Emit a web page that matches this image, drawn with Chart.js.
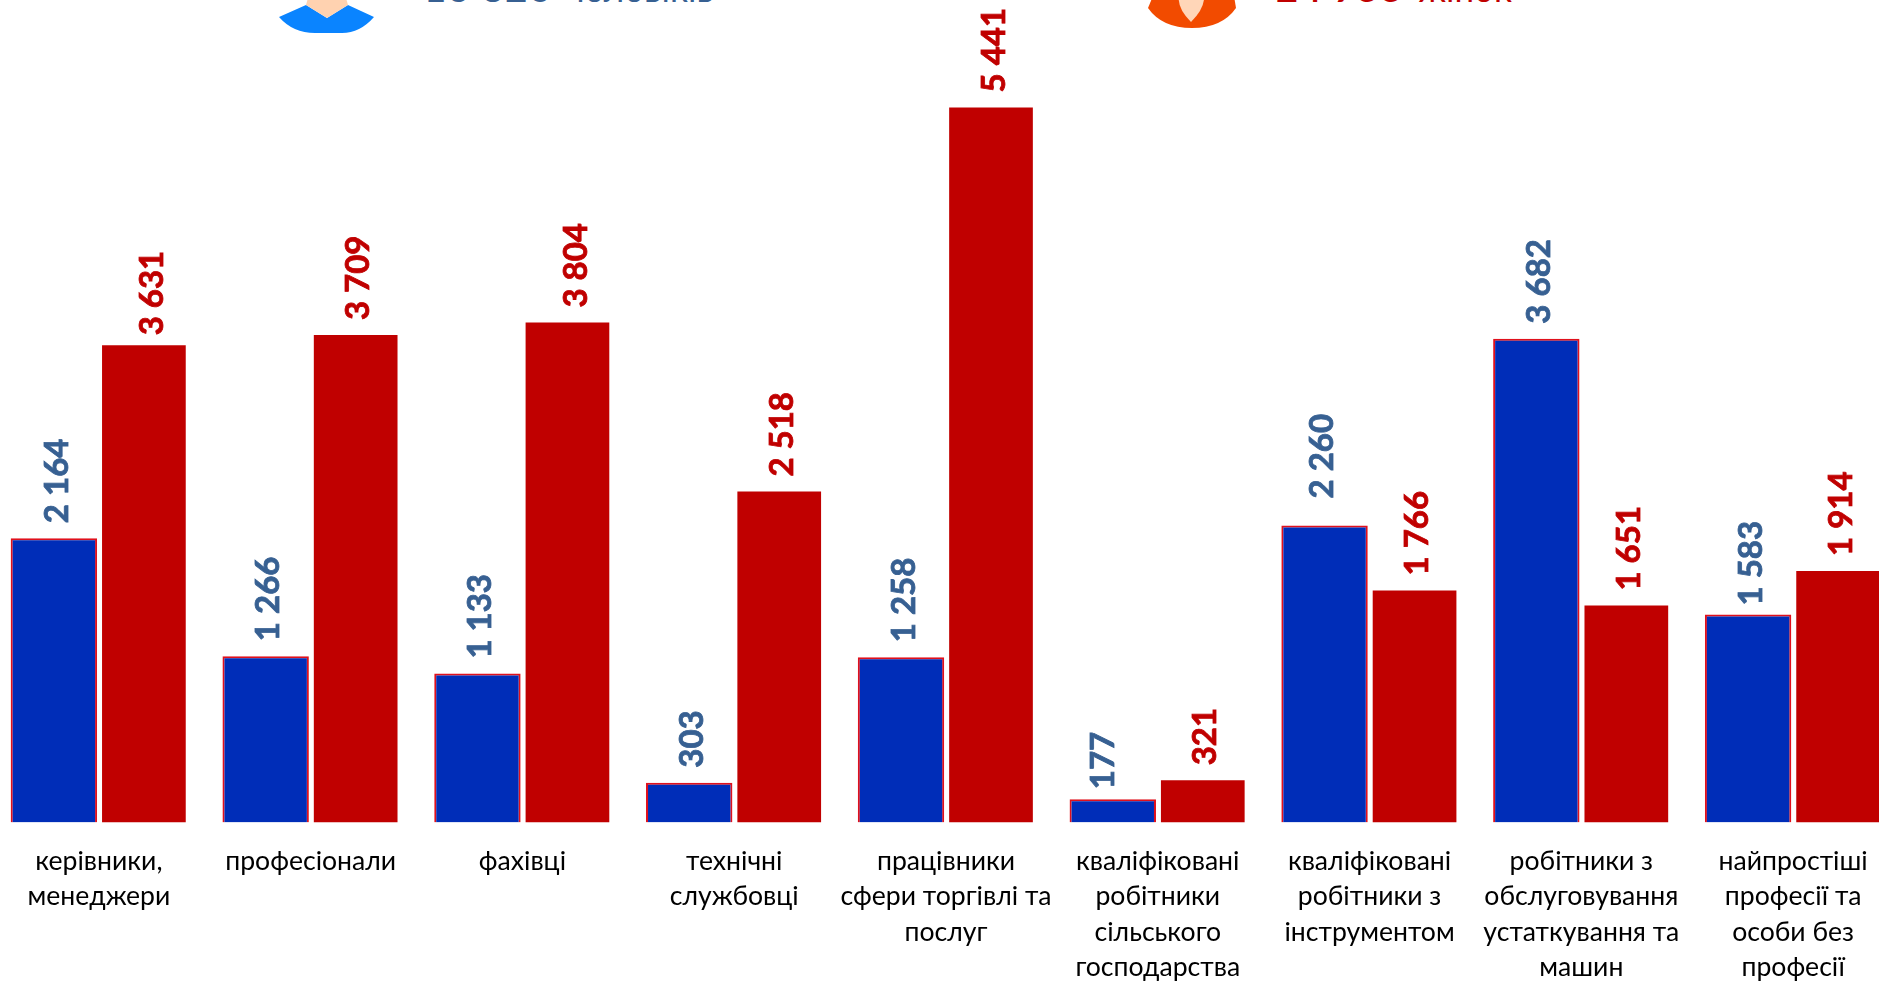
<!DOCTYPE html>
<html lang="uk">
<head>
<meta charset="utf-8">
<title>Професії</title>
<script src="https://cdn.jsdelivr.net/npm/chart.js@4"></script>
<style>
    html, body { margin: 0; padding: 0; background: #fff; overflow: hidden; width: 1879px; height: 982px; }
    #stage { position: relative; width: 1879px; height: 982px; overflow: hidden; }
    #chart { position: absolute; left: -7px; top: 0; }
    .icon { position: absolute; left: 0; top: 0; }
    .total { position: absolute; top: -40px; height: 54px; line-height: 54px; white-space: nowrap; font-family: Lato, "Open Sans", sans-serif; }
    .total b { font-size: 38px; letter-spacing: 1.5px; }
    .total span { font-size: 35px; margin-left: 14px; }
    #men { left: 424px; color: #376092; }
    #women { left: 1276px; color: #c00000; }
</style>
</head>
<body>
<div id="stage">
    <svg class="icon" width="1879" height="40">
        <path d="M279 17 L306 5 L327 18 L348 5 L374 17 Q360 33 342 33 L315 33 Q293 33 279 17 Z" fill="#0a84ff"/>
        <path d="M306 5 L308 -2 L346 -2 L348 5 L327 18 Z" fill="#ffd2b0"/>
        <path d="M1153 -4 L1234 -4 L1236 8 Q1222 28 1192 28 Q1162 28 1148 8 Z" fill="#f24b00"/>
        <path d="M1179 -4 L1204 -4 Q1205 8 1191 22 Q1177 8 1179 -4 Z" fill="#ffd6b8"/>
    </svg>
    <div class="total" id="men"><b>13 826</b><span>чоловіків</span></div>
    <div class="total" id="women"><b>24 755</b><span>жінок</span></div>
    <canvas id="chart" width="1906" height="982"></canvas>
</div>
<script>
const categories = [
    ["керівники,", "менеджери"],
    ["професіонали"],
    ["фахівці"],
    ["технічні", "службовці"],
    ["працівники", "сфери торгівлі та", "послуг"],
    ["кваліфіковані", "робітники", "сільського", "господарства"],
    ["кваліфіковані", "робітники з", "інструментом"],
    ["робітники з", "обслуговування", "устаткування та", "машин"],
    ["найпростіші", "професії та", "особи без", "професії"],
]
const men = [2164, 1266, 1133, 303, 1258, 177, 2260, 3682, 1583]
const women = [3631, 3709, 3804, 2518, 5441, 321, 1766, 1651, 1914]

// a few labels were dragged by hand in the original: [dataset, bar, dx, dy up]
const labelNudges = [
    [0, 5, -12, -5],
    [0, 6, -5, 12],
    [0, 8, 0, -6],
    [1, 0, 5, -5],
    [1, 2, 6, 0],
]

const valueLabels = {
    id: "valueLabels",
    afterDatasetsDraw(chart) {
        const ctx = chart.ctx
        chart.data.datasets.forEach((ds, i) => {
            chart.getDatasetMeta(i).data.forEach((bar, j) => {
                const text = String(ds.data[j]).replace(/\B(?=(\d{3})+$)/g, " ")
                const nudge = labelNudges.find((n) => n[0] === i && n[1] === j) || [i, j, 0, 0]
                ctx.save()
                ctx.translate(bar.x + 3 + nudge[2], bar.y - 15 - nudge[3])
                ctx.rotate(-Math.PI / 2)
                ctx.font = "bold 33px Lato, 'Open Sans', sans-serif"
                ctx.fillStyle = ds.labelColor
                ctx.strokeStyle = ds.labelColor
                ctx.lineWidth = 0.8
                ctx.textAlign = "left"
                ctx.textBaseline = "middle"
                ctx.fillText(text, 0, 0)
                ctx.strokeText(text, 0, 0)
                ctx.restore()
            })
        })
    },
}

new Chart(document.getElementById("chart").getContext("2d"), {
    type: "bar",
    data: {
        labels: categories,
        datasets: [
            {
                label: "чоловіки",
                data: men,
                backgroundColor: "#002db8",
                borderColor: "#e0101c",
                borderWidth: 2,
                barPercentage: 0.96,
                labelColor: "#376092",
            },
            {
                label: "жінки",
                data: women,
                backgroundColor: "#c00000",
                barPercentage: 0.93,
                labelColor: "#c00000",
            },
        ],
    },
    options: {
        responsive: false,
        animation: false,
        devicePixelRatio: 1,
        layout: { padding: 0 },
        categoryPercentage: 0.85,
        plugins: {
            legend: { display: false },
            tooltip: { enabled: false },
        },
        scales: {
            y: {
                display: false,
                min: 0,
                max: 6259,
            },
            x: {
                grid: { display: false },
                border: { display: false },
                afterFit: (scale) => {
                    scale.height = 159.5
                },
                ticks: {
                    autoSkip: false,
                    maxRotation: 0,
                    padding: 13,
                    color: "#000",
                    font: { family: "Lato, 'Open Sans', sans-serif", size: 26.6, lineHeight: 1.33 },
                },
            },
        },
    },
    plugins: [valueLabels],
})
</script>
</body>
</html>
